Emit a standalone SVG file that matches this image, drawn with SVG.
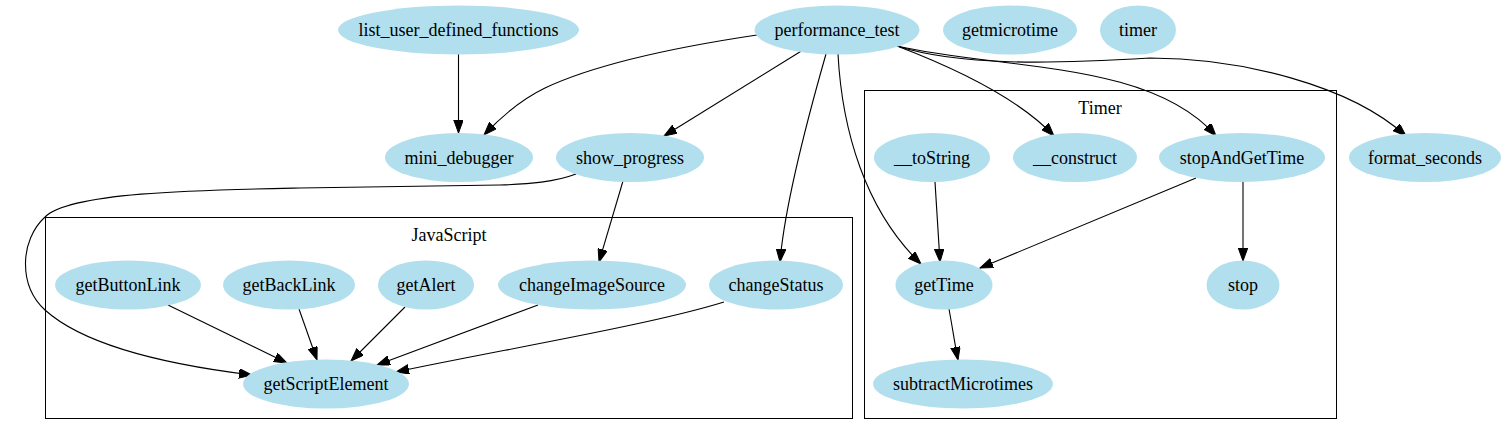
<svg xmlns="http://www.w3.org/2000/svg" width="1507" height="445" viewBox="0 0 1507 445">
<style>
.n ellipse{fill:#b2dfee;stroke:none}
text{font-family:"Liberation Serif","Times New Roman",serif;font-size:18px;fill:#000;text-anchor:middle}
.c{fill:none;stroke:#000;stroke-width:1}
.e path{fill:none;stroke:#000;stroke-width:1.1;marker-end:url(#ah)}
</style>
<defs>
<marker id="ah" markerUnits="userSpaceOnUse" markerWidth="14" markerHeight="10" refX="13" refY="4.75" orient="auto">
<path d="M0,0 L13,4.75 L0,9.5 z" fill="#000" stroke="#000" stroke-width="1"/>
</marker>
</defs>
<rect width="1507" height="445" fill="#fff"/>
<g id="cluster_JavaScript"><rect class="c" x="45.5" y="217.5" width="807" height="201"/><text x="449" y="241">JavaScript</text></g>
<g id="cluster_Timer"><rect class="c" x="864.5" y="90.5" width="472" height="328"/><text x="1100" y="114">Timer</text></g>
<g class="e" id="edges">
<path d="M458.5,54 L458.5,133"/>
<path d="M757,35 C690,45 600,62 545,88 C520,100 500,118 484,135"/>
<path d="M803,50 L664,136"/>
<path d="M826,54 C810,110 785,200 780,262"/>
<path d="M838,54 C842,130 865,210 921,264"/>
<path d="M897,46 C960,70 1020,100 1054,136"/>
<path d="M897,46 C1000,70 1150,60 1216,136"/>
<path d="M897,46 C960,66 1050,64 1150,58 C1240,58 1350,85 1406,136"/>
<path d="M576,174 C555,182 530,184 500,185 L300,188 C200,190 70,192 45,217 C20,240 18,285 45,310 C85,346 170,365 252,375"/>
<path d="M623,181 L599,262"/>
<path d="M168,305 L287,363"/>
<path d="M299,309 L317,360"/>
<path d="M405,307 L351,361"/>
<path d="M538,305 L377,365"/>
<path d="M724,302 C650,325 500,350 396,372"/>
<path d="M935,182 L940,262"/>
<path d="M1196,178 L980,268"/>
<path d="M1243,182 L1243,261"/>
<path d="M949,309 C952,325 955,345 958,360"/>
</g>
<g class="n" id="list_user_defined_functions"><ellipse cx="458.5" cy="30" rx="120.5" ry="24.5"/><text x="458.5" y="36">list_user_defined_functions</text></g>
<g class="n" id="performance_test"><ellipse cx="837" cy="30" rx="82.5" ry="24.5"/><text x="837" y="36">performance_test</text></g>
<g class="n" id="getmicrotime"><ellipse cx="1010" cy="30" rx="67" ry="24.5"/><text x="1010" y="36">getmicrotime</text></g>
<g class="n" id="timer"><ellipse cx="1138" cy="30" rx="38" ry="24.5"/><text x="1138" y="36">timer</text></g>
<g class="n" id="mini_debugger"><ellipse cx="459" cy="157.5" rx="74" ry="24.5"/><text x="459" y="163.5">mini_debugger</text></g>
<g class="n" id="show_progress"><ellipse cx="630" cy="157.5" rx="74" ry="24.5"/><text x="630" y="163.5">show_progress</text></g>
<g class="n" id="__toString"><ellipse cx="932" cy="157.5" rx="58" ry="24.5"/><text x="932" y="163.5">__toString</text></g>
<g class="n" id="__construct"><ellipse cx="1075" cy="157.5" rx="62" ry="24.5"/><text x="1075" y="163.5">__construct</text></g>
<g class="n" id="stopAndGetTime"><ellipse cx="1242" cy="157.5" rx="83" ry="24.5"/><text x="1242" y="163.5">stopAndGetTime</text></g>
<g class="n" id="format_seconds"><ellipse cx="1425" cy="157.5" rx="76" ry="24.5"/><text x="1425" y="163.5">format_seconds</text></g>
<g class="n" id="getButtonLink"><ellipse cx="128" cy="285" rx="73" ry="24.5"/><text x="128" y="291">getButtonLink</text></g>
<g class="n" id="getBackLink"><ellipse cx="289" cy="285" rx="66" ry="24.5"/><text x="289" y="291">getBackLink</text></g>
<g class="n" id="getAlert"><ellipse cx="426" cy="285" rx="48" ry="24.5"/><text x="426" y="291">getAlert</text></g>
<g class="n" id="changeImageSource"><ellipse cx="592" cy="285" rx="94" ry="24.5"/><text x="592" y="291">changeImageSource</text></g>
<g class="n" id="changeStatus"><ellipse cx="776" cy="285" rx="67" ry="24.5"/><text x="776" y="291">changeStatus</text></g>
<g class="n" id="getTime"><ellipse cx="944" cy="285" rx="48.5" ry="24.5"/><text x="944" y="291">getTime</text></g>
<g class="n" id="stop"><ellipse cx="1243" cy="285" rx="36.5" ry="24.5"/><text x="1243" y="291">stop</text></g>
<g class="n" id="getScriptElement"><ellipse cx="326" cy="384" rx="83" ry="24.5"/><text x="326" y="390">getScriptElement</text></g>
<g class="n" id="subtractMicrotimes"><ellipse cx="963" cy="384" rx="90" ry="24.5"/><text x="963" y="390">subtractMicrotimes</text></g>
</svg>
